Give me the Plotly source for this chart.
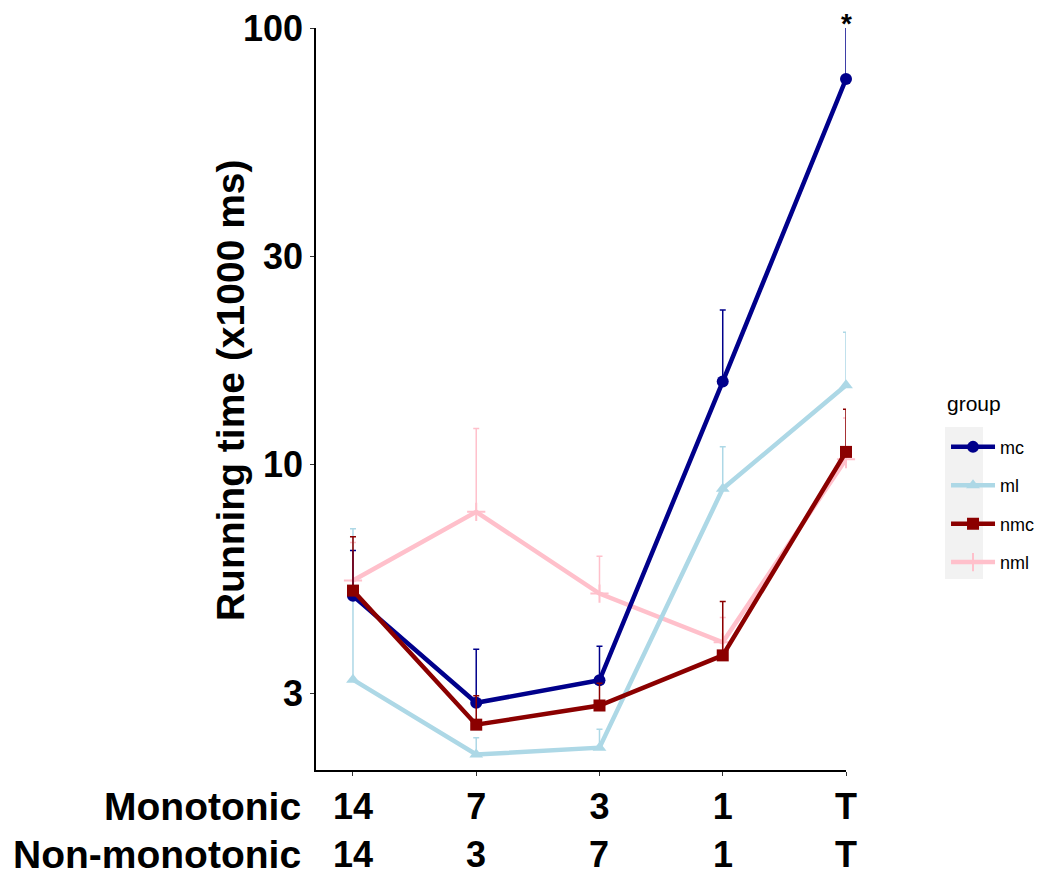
import plotly.graph_objects as go
import numpy as np

# Data
x_pos = [0, 1, 2, 3, 4]
mono_labels = ["14", "7", "3", "1", "T"]
nonmono_labels = ["14", "3", "7", "1", "T"]

groups = ["mc", "ml", "nmc", "nml"]
mc_mean = [5.01, 2.85, 3.21, 15.5, 76.4]
mc_upper = [6.36, 3.78, 3.84, 22.6, 100.5]
ml_mean = [3.22, 2.17, 2.25, 8.81, 15.2]
ml_upper = [7.14, 2.37, 2.48, 11.0, 20.1]
nmc_mean = [5.15, 2.54, 2.81, 3.66, 10.7]
nmc_upper = [6.84, 2.96, 3.16, 4.86, 13.4]
nml_mean = [5.43, 7.80, 5.07, 3.92, 10.3]
nml_upper = [6.64, 12.1, 6.17, 4.47, 12.8]

y_ticks = [3, 10, 30, 100]

colors = {"mc": "#00008B", "ml": "#ADD8E6", "nmc": "#8B0000", "nml": "#FFC0CB"}
symbols = {"mc": "circle", "ml": "triangle-up", "nmc": "square", "nml": "cross-thin"}
means = {"mc": mc_mean, "ml": ml_mean, "nmc": nmc_mean, "nml": nml_mean}
uppers = {"mc": mc_upper, "ml": ml_upper, "nmc": nmc_upper, "nml": nml_upper}
ranks = {"mc": 1, "ml": 2, "nmc": 3, "nml": 4}
draw_order = ["nml", "ml", "mc", "nmc"]

FONT = "Liberation Sans, Arial, sans-serif"

fig = go.Figure()
for g in draw_order:
    m = np.array(means[g])
    u = np.array(uppers[g])
    marker = dict(symbol=symbols[g], size=12, color=colors[g])
    if g == "nml":
        marker = dict(symbol="cross-thin", size=13, color=colors[g],
                      line=dict(color=colors[g], width=2))
    fig.add_trace(go.Scatter(
        x=x_pos, y=m, mode="lines+markers", name=g,
        legendgroup=g, legendrank=ranks[g],
        line=dict(color=colors[g], width=4.5),
        marker=marker,
        error_y=dict(type="data", symmetric=False, array=u - m,
                     arrayminus=np.zeros(len(m)), color=colors[g],
                     thickness=1.5, width=3),
        cliponaxis=False,
    ))

# page body adds an 8px offset, so the figure is 8px smaller than the window
fig.update_layout(
    width=1035, height=867,
    margin=dict(l=308, r=197, t=20, b=105),
    paper_bgcolor="white", plot_bgcolor="white",
    font=dict(family=FONT, color="black"),
    showlegend=True,
    legend=dict(
        font=dict(size=18, color="black"),
        xref="container", yref="container",
        x=0.9063, xanchor="left", y=0.5148, yanchor="top",
        bgcolor="rgba(0,0,0,0)",
        tracegroupgap=12,
        traceorder="grouped",
        itemwidth=44,
    ),
    xaxis=dict(
        range=[-0.3, 4], tickmode="array", tickvals=x_pos, ticktext=mono_labels,
        showline=True, linecolor="black", linewidth=1.5,
        ticks="outside", ticklen=4, tickcolor="#333333",
        tickfont=dict(size=36, color="black", family=FONT, weight="bold"),
        showgrid=False, zeroline=False, automargin=False,
        ticklabeloverflow="allow",
    ),
    yaxis=dict(
        type="log", range=[np.log10(2), 2],
        tickmode="array", tickvals=y_ticks, ticktext=[str(t) for t in y_ticks],
        showline=True, linecolor="black", linewidth=1.5,
        ticks="outside", ticklen=4, tickcolor="#333333",
        tickfont=dict(size=36, color="black", family=FONT, weight="bold"),
        showgrid=False, zeroline=False, automargin=False,
        ticklabeloverflow="allow",
    ),
)

# y axis title
fig.add_annotation(text="<b>Running time (x1000 ms)</b>", xref="paper", yref="paper",
                   x=0, y=0.512, xanchor="center", yanchor="middle", xshift=-86,
                   textangle=-90, showarrow=False,
                   font=dict(size=39, family=FONT, color="black"))

# legend key background
fig.add_shape(type="rect", xref="paper", yref="paper",
              x0=1.1868, x1=1.2585, y0=0.2574, y1=0.4623,
              fillcolor="#F2F2F2", line=dict(width=0), layer="below")

# legend title
fig.add_annotation(text="group", xref="paper", yref="paper", x=1.1868, y=0.4933,
                   xanchor="left", yanchor="middle", showarrow=False,
                   font=dict(size=21, family=FONT, color="black"))

# row labels
fig.add_annotation(text="<b>Monotonic</b>", xref="paper", yref="paper", x=0, y=0,
                   xanchor="right", yanchor="middle", xshift=-13, yshift=-36,
                   showarrow=False, font=dict(size=39, family=FONT, color="black"))
fig.add_annotation(text="<b>Non-monotonic</b>", xref="paper", yref="paper", x=0, y=0,
                   xanchor="right", yanchor="middle", xshift=-13, yshift=-84,
                   showarrow=False, font=dict(size=39, family=FONT, color="black"))
for xv, lab in zip(x_pos, nonmono_labels):
    fig.add_annotation(text="<b>" + lab + "</b>", xref="x", yref="paper", x=xv, y=0,
                       xanchor="center", yanchor="middle", yshift=-84,
                       showarrow=False, font=dict(size=36, family=FONT, color="black"))

# significance marker
fig.add_annotation(text="<b>*</b>", xref="x", yref="paper", x=x_pos[4], y=1,
                   xanchor="center", yanchor="bottom", yshift=-13, showarrow=False,
                   font=dict(size=28, family=FONT, color="black"))

fig.write_html("out.html")
